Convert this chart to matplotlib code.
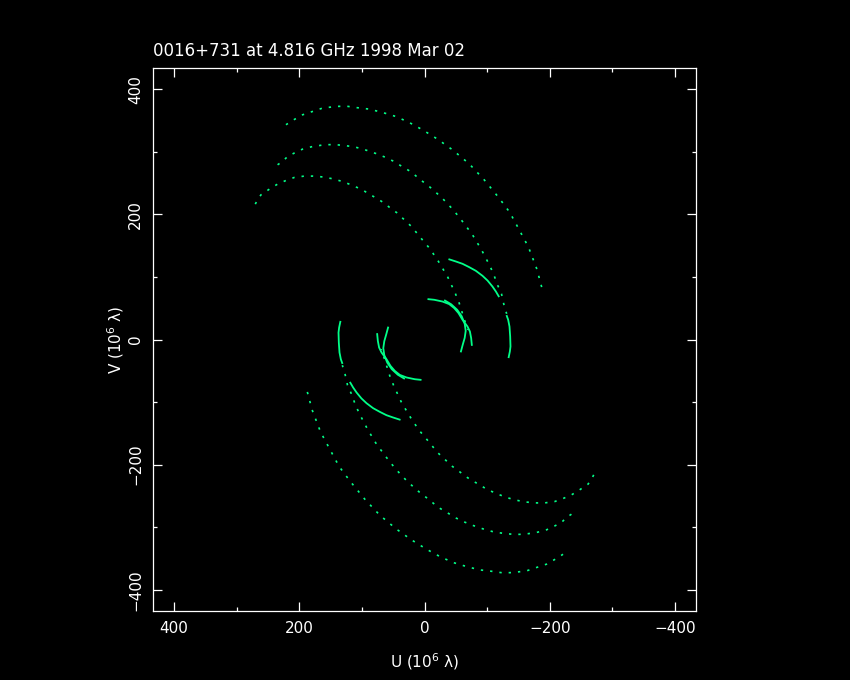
import matplotlib
matplotlib.use("Agg")
import numpy as np
import matplotlib.pyplot as plt
from matplotlib.ticker import MultipleLocator

title = "0016+731 at 4.816 GHz 1998 Mar 02"

# uv tracks, one half of each; the conjugate half is drawn at (-u, -v)
# long baselines (sparse samples -> dotted)
outer_u = [221.2, 210.7, 194.7, 178.8, 162.8, 141.4, 125.5, 109.5, 88.3, 67.0, 45.7, 24.4,
           3.2, -20.8, -44.7, -71.3, -95.3, -119.2, -136.3, -151.2, -166.0, -179.4, -184.7, -188.3]
outer_v = [343.3, 350.1, 359.2, 364.5, 369.9, 372.5, 373.1, 370.8, 368.3, 362.9, 356.5, 346.9,
           335.2, 320.3, 303.2, 280.9, 255.3, 226.0, 203.0, 175.4, 147.7, 112.6, 92.7, 79.4]

middle_u = [234.6, 226.7, 218.7, 208.0, 194.7, 178.8, 160.1, 144.1, 128.2, 112.2, 96.2, 77.6,
            64.3, 48.4, 40.4, 20.8, 8.5, -7.5, -15.5, -29.8, -46.3, -60.7, -76.6, -91.0,
            -104.9, -111.3, -116.5, -122.9, -127.2, -131.2]
middle_v = [279.3, 284.5, 292.5, 298.0, 304.3, 308.5, 311.2, 311.7, 310.1, 308.0, 303.7, 297.3,
            292.0, 284.5, 279.3, 267.6, 256.9, 244.6, 237.7, 224.4, 206.8, 188.6, 167.4, 143.4,
            116.7, 101.8, 87.4, 73.1, 53.9, 41.1]

inner_u = [270.2, 266.6, 261.1, 254.7, 245.2, 234.6, 221.2, 208.0, 192.0, 176.1, 160.1, 146.8,
           130.9, 117.5, 99.0, 91.0, 75.0, 64.3, 51.1, 43.1, 35.1, 20.8, 5.7, -9.1, -22.3,
           -36.7, -49.0, -55.4, -63.8, -69.3]
inner_v = [216.4, 223.3, 231.3, 235.6, 242.0, 248.4, 254.2, 259.0, 261.2, 261.2, 259.6, 256.9,
           252.6, 247.3, 239.3, 234.0, 224.9, 218.0, 207.3, 202.0, 194.1, 180.6, 162.1, 144.5,
           124.7, 100.7, 74.2, 58.2, 31.5, 15.5]

# short baselines (dense samples -> solid)
arc_a_u = [-38.3, -50.1, -60.7, -71.3, -82.0, -92.6, -100.6, -108.5, -114.0, -119.2]
arc_a_v = [128.5, 124.7, 121.0, 115.7, 109.8, 101.8, 94.3, 84.7, 76.7, 67.8]

arc_b_u = [-130.9, -133.6, -135.7, -136.8, -137.3, -136.3, -134.1]
arc_b_v = [39.0, 31.5, 20.8, 4.8, -11.2, -19.2, -29.7]

arc_c_u = [-4.8, -15.5, -28.7, -39.4, -47.4, -54.3, -60.7, -68.6, -72.5, -74.5, -75.7]
arc_c_v = [64.6, 63.5, 60.7, 56.6, 50.2, 42.2, 31.5, 20.8, 12.8, 2.2, -10.1]

arc_d_u = [-31.4, -42.6, -52.2, -59.4, -64.2, -65.8, -64.2, -61.0, -57.8]
arc_d_v = [63.0, 56.3, 47.5, 37.1, 25.1, 13.9, 2.7, -8.5, -20.5]

dotted = [(outer_u, outer_v), (middle_u, middle_v), (inner_u, inner_v)]
solid = [(arc_a_u, arc_a_v), (arc_b_u, arc_b_v), (arc_c_u, arc_c_v), (arc_d_u, arc_d_v)]

green = "#00ff88"

fig = plt.figure(figsize=(8.5, 6.8), dpi=100, facecolor="black")
ax = fig.add_axes([153 / 850, 1 - 611 / 680, 543 / 850, 543 / 680], facecolor="black")

for u, v in dotted:
    u = np.array(u)
    v = np.array(v)
    for s in (1, -1):
        ax.plot(s * u, s * v, color=green, lw=1.2, linestyle=(0, (1.4, 4.2)),
                dash_capstyle="butt")

for u, v in solid:
    u = np.array(u)
    v = np.array(v)
    for s in (1, -1):
        ax.plot(s * u, s * v, color=green, lw=1.3, solid_capstyle="butt")

ax.set_xlim(433.5, -433.5)
ax.set_ylim(-434, 434)

ax.xaxis.set_major_locator(MultipleLocator(200))
ax.xaxis.set_minor_locator(MultipleLocator(100))
ax.yaxis.set_major_locator(MultipleLocator(200))
ax.yaxis.set_minor_locator(MultipleLocator(100))

for sp in ax.spines.values():
    sp.set_color("white")
    sp.set_linewidth(0.9)

ax.tick_params(which="both", direction="in", top=True, right=True, colors="white",
               labelsize=11, width=0.9)
ax.tick_params(which="major", length=6.5, pad=7)
ax.tick_params(which="minor", length=3.2)
for lab in ax.get_yticklabels():
    lab.set_rotation(90)
    lab.set_va("center")

ax.set_title(title, loc="left", color="white", fontsize=12, pad=9)
ax.set_xlabel("U (10$^6$ λ)", color="white", fontsize=11, labelpad=11)
ax.set_ylabel("V (10$^6$ λ)", color="white", fontsize=11, labelpad=2)

fig.savefig("out.png", dpi=100, facecolor="black")
